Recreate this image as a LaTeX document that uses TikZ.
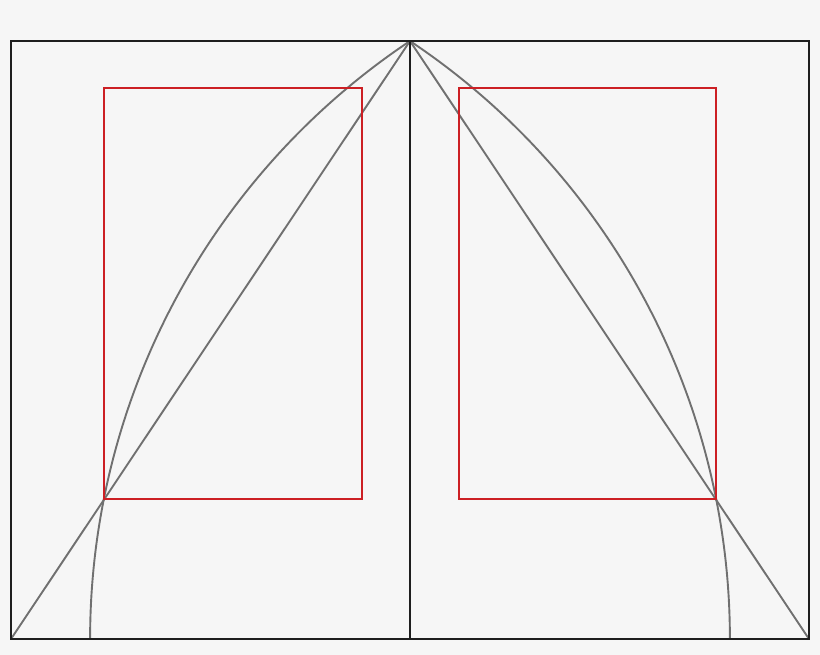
\documentclass[tikz,border=0pt]{standalone}
\usetikzlibrary{calc}
\definecolor{bg}{HTML}{F6F6F6}
\definecolor{frame}{HTML}{1E1E1E}
\definecolor{guide}{HTML}{707070}
\definecolor{redbox}{HTML}{CC1F24}
\tikzset{
  framestyle/.style={draw=frame, line width=2.2pt},
  guidestyle/.style={draw=guide, line width=1.9pt},
  boxstyle/.style={draw=redbox, line width=2pt},
}
\begin{document}
\begin{tikzpicture}[x=1pt,y=1pt]
\fill[bg] (0,0) rectangle (820,655);
\useasboundingbox (0,0) rectangle (820,655);
% key points (y measured upward: y = 655 - pixel)
\coordinate (BL) at (11,16);
\coordinate (BR) at (809,16);
\coordinate (TL) at (11,614);
\coordinate (TR) at (809,614);
\coordinate (TM) at (410,614);
\coordinate (BM) at (410,16);
% guides
\draw[guidestyle] (BL) -- (TM);
\draw[guidestyle] (TM) -- (BR);
\draw[guidestyle] (90.1,16) arc[start angle=180, end angle=123.71, radius=718.9];
\draw[guidestyle] (729.9,16) arc[start angle=0, end angle=56.29, radius=718.9];
% red text blocks
\draw[boxstyle] (104.3,156) rectangle (361.5,567);
\draw[boxstyle] (458.5,156) rectangle (715.7,567);
% frame
\draw[framestyle] (BL) rectangle (TR);
\draw[framestyle] (BM) -- (TM);
\end{tikzpicture}
\end{document}
